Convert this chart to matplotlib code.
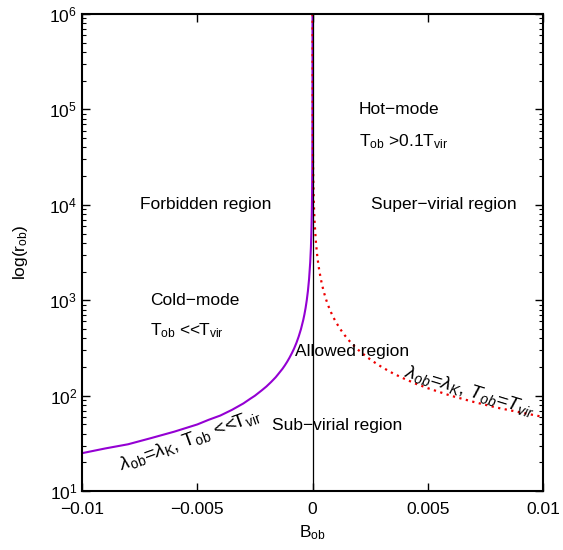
import matplotlib
matplotlib.use('Agg')
import matplotlib.pyplot as plt
from matplotlib.ticker import FixedLocator, LogLocator, NullFormatter

plt.rcParams['font.family'] = ['Liberation Sans', 'DejaVu Sans']
plt.rcParams['mathtext.fontset'] = 'custom'
plt.rcParams['mathtext.rm'] = 'Liberation Sans'
plt.rcParams['mathtext.it'] = 'Liberation Sans:italic'
plt.rcParams['axes.unicode_minus'] = True

# values (B_ob, r_ob)
cold_B = [-0.01, -0.009, -0.008, -0.007, -0.006, -0.005, -0.0045, -0.004, -0.0035,
          -0.003, -0.0027, -0.0025, -0.0022, -0.002, -0.0018, -0.0016, -0.0015,
          -0.0013, -0.0012, -0.0011, -0.001, -0.0009, -0.0008, -0.0007, -0.0006,
          -0.0005, -0.0004, -0.00035, -0.0003, -0.00025, -0.0002, -0.00015,
          -0.0001, -7e-5, -5e-5, -3e-5, -2e-5, -1e-5, -5e-6, -2e-6, -1e-6,
          -5e-7, -2.5e-7]
cold_r = [25, 28, 31, 36, 42, 50, 56, 62, 71,
          83, 93, 100, 114, 125, 139, 156, 167,
          192, 208, 227, 250, 278, 312, 357, 417,
          500, 625, 714, 833, 1000, 1250, 1667,
          2500, 3570, 5000, 8330, 12500, 25000, 50000, 125000, 250000,
          500000, 1000000]

hot_B = [6e-7, 1e-6, 2e-6, 5e-6, 1e-5, 2e-5, 3e-5, 5e-5, 7e-5, 0.0001,
         0.00015, 0.0002, 0.00025, 0.0003, 0.0004, 0.0005, 0.0006, 0.0007,
         0.0008, 0.0009, 0.001, 0.0012, 0.0014, 0.0016, 0.0018, 0.002,
         0.0023, 0.0026, 0.003, 0.0035, 0.004, 0.0045, 0.005,
         0.006, 0.007, 0.008, 0.009, 0.01]
hot_r = [1000000, 600000, 300000, 120000, 60000, 30000, 20000, 12000, 8570, 6000,
         4000, 3000, 2400, 2000, 1500, 1200, 1000, 857,
         750, 667, 600, 500, 429, 375, 333, 300,
         261, 231, 200, 171, 150, 133, 120,
         100, 86, 75, 67, 60]

x_ticks = [-0.01, -0.005, 0, 0.005, 0.01]
x_labels = ['\u22120.01', '\u22120.005', '0', '0.005', '0.01']

fig = plt.figure(figsize=(5.63, 5.5), dpi=100)
ax = fig.add_axes([0.1457, 0.107, 0.8188, 0.8675])

ax.plot(cold_B, cold_r, color='#9400d3', lw=1.5, solid_capstyle='butt')
ax.plot(hot_B, hot_r, color='#ee0000', lw=1.6, linestyle=(0, (1, 2)))
ax.axvline(0, color='black', lw=0.9)

ax.set_yscale('log')
ax.set_xlim(-0.01, 0.01)
ax.set_ylim(10, 1e6)

ax.xaxis.set_major_locator(FixedLocator(x_ticks))
ax.set_xticklabels(x_labels)
ax.yaxis.set_major_locator(LogLocator(base=10, numticks=10))
ax.yaxis.set_minor_locator(LogLocator(base=10, subs=range(2, 10), numticks=20))
ax.yaxis.set_minor_formatter(NullFormatter())

ax.tick_params(which='both', direction='in', top=True, right=True, labelsize=12.5)
ax.tick_params(which='major', length=6, width=1)
ax.tick_params(which='minor', length=3, width=0.8)
ax.tick_params(axis='x', pad=8)
for s in ax.spines.values():
    s.set_linewidth(1.5)

ax.set_xlabel(r'B$_{\rm ob}$', fontsize=12.5, labelpad=4)
ax.set_ylabel(r'log(r$_{\rm ob}$)', fontsize=12.5, labelpad=14)

fs = 12.5
ax.text(-0.0075, 1e4, 'Forbidden region', fontsize=fs, va='center')
ax.text(0.00202, 1e5, 'Hot\u2212mode', fontsize=fs, va='center')
ax.text(0.00202, 4.6e4, r'T$_{\rm ob}$ >0.1T$_{\rm vir}$', fontsize=fs, va='center')
ax.text(0.00254, 1e4, 'Super\u2212virial region', fontsize=fs, va='center')
ax.text(-0.00703, 1e3, 'Cold\u2212mode', fontsize=fs, va='center')
ax.text(-0.00703, 480, r'T$_{\rm ob}$ <<T$_{\rm vir}$', fontsize=fs, va='center')
ax.text(-0.00076, 290, 'Allowed region', fontsize=fs, va='center')
ax.text(-0.00176, 49, 'Sub\u2212virial region', fontsize=fs, va='center')

ax.text(-0.0053, 34, r'$\lambda_{\rm ob}$=$\lambda_{\rm K}$, T$_{\rm ob}$ <<T$_{\rm vir}$',
        fontsize=14, rotation=20, ha='center', va='center', rotation_mode='anchor')
ax.text(0.0068, 112, r'$\lambda_{ob}$=$\lambda_{K}$, $T_{ob}$=$T_{vir}$',
        fontsize=14, rotation=-17, ha='center', va='center', rotation_mode='anchor')

fig.savefig('out.png', dpi=100)
